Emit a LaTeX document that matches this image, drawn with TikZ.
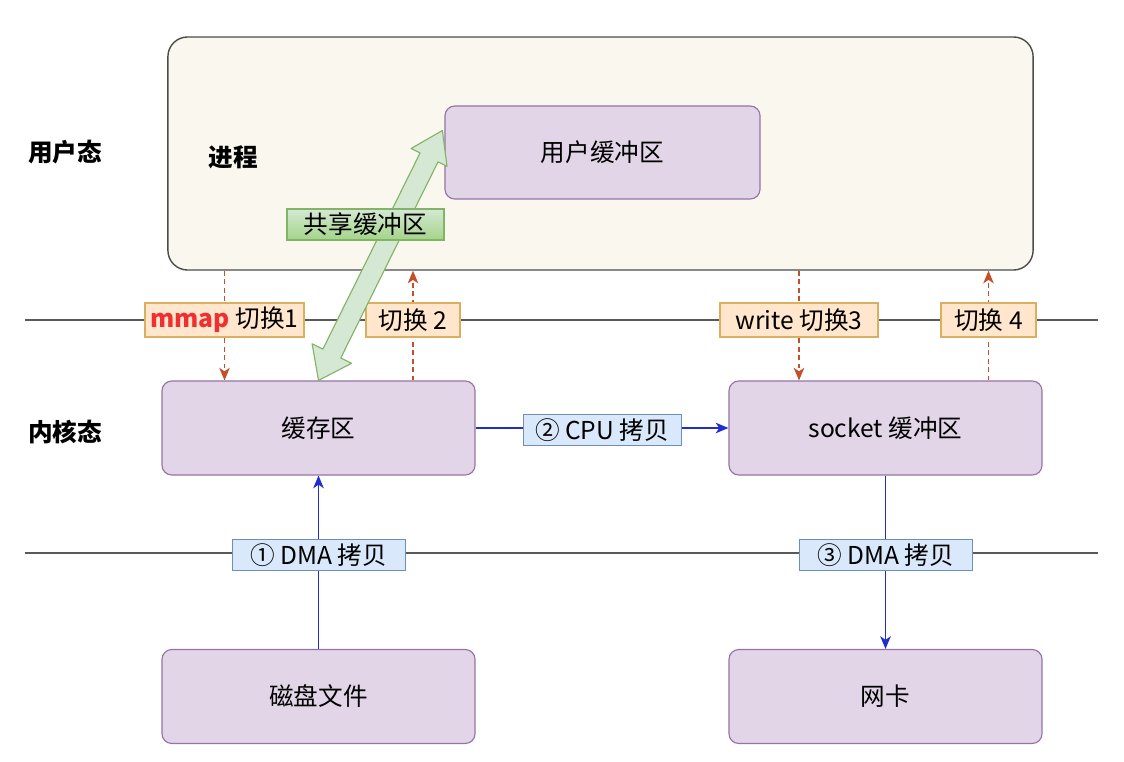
\documentclass[tikz,border=0pt]{standalone}
\usepackage{fontspec}
\setmainfont{Noto Sans CJK SC}
\usetikzlibrary{arrows.meta,calc,backgrounds}
\definecolor{buffill}{HTML}{E1D5E7}
\definecolor{bufdraw}{HTML}{9673A6}
\definecolor{procfill}{HTML}{F9F7EE}
\definecolor{swfill}{HTML}{FFE6CC}
\definecolor{swdraw}{HTML}{D9B060}
\definecolor{cpfill}{HTML}{DAE8FC}
\definecolor{cpdraw}{HTML}{6C8EBF}
\definecolor{cparrow}{HTML}{1F2ECC}
\definecolor{shfill}{HTML}{D5E8D4}
\definecolor{shdark}{HTML}{A3D488}
\definecolor{shdraw}{HTML}{82B366}
\definecolor{ctxarrow}{HTML}{C4502A}
\definecolor{mmapred}{HTML}{F03030}
\newcommand{\lblfont}{\fontsize{17.5}{20}\selectfont}

\begin{document}
\begin{tikzpicture}[x=0.025cm,y=-0.025cm,>={Stealth[length=9pt,width=7.5pt,inset=2.5pt]},
  buf/.style={draw=bufdraw,fill=buffill,rounded corners=7pt,line width=0.8pt,
              minimum width=7.825cm,minimum height=2.35cm,font=\lblfont},
  swlbl/.style={draw=swdraw,fill=swfill,line width=0.8pt,inner sep=2pt,
                minimum height=0.85cm,font=\lblfont},
  cplbl/.style={draw=cpdraw,fill=cpfill,line width=0.6pt,inner sep=2pt,
                minimum height=0.76cm,font=\lblfont},
  state/.style={font=\lblfont\bfseries},
  ctx/.style={->,draw=ctxarrow,dash pattern=on 3.5pt off 2.5pt,line width=0.8pt},
  copy/.style={->,draw=cparrow,line width=1pt},
  sep/.style={draw=black!65,line width=1pt}]
  \useasboundingbox (0,0) rectangle (1124,762);

  % user space
  \node[draw=black!70,fill=procfill,rounded corners=14pt,line width=1pt,
        minimum width=21.625cm,minimum height=5.825cm] (proc) at (600.5,153.5) {};
  \node[state] (user) at (65,152) {用户态};
  \node[state] (proctxt) at (233,157) {进程};
  \node[buf,minimum width=7.875cm,minimum height=2.325cm] (ubuf) at (602.5,152.5) {用户缓冲区};

  % kernel space
  \node[state] (kernel) at (65,432) {内核态};
  \node[buf] (cache) at (318.5,428) {缓存区};
  \node[buf] (sock) at (885.5,428) {socket 缓冲区};
  \node[buf] (disk) at (318.5,696.5) {磁盘文件};
  \node[buf] (nic) at (885.5,696.5) {网卡};

  % context switches
  \node[swlbl,minimum width=3.975cm] (sw1) at (224.5,320)
       {\textcolor{mmapred}{\textbf{mmap}} 切换1};
  \node[swlbl,minimum width=2.35cm] (sw2) at (413,320) {切换 2};
  \node[swlbl,minimum width=3.95cm] (sw3) at (799,320) {write 切换3};
  \node[swlbl,minimum width=2.375cm] (sw4) at (988.5,320) {切换 4};

  % copies
  \node[cplbl,minimum width=3.95cm] (cpu) at (602,430) {② CPU 拷贝};
  \node[cplbl,minimum width=4.325cm] (dma1) at (318.5,555) {① DMA 拷贝};
  \node[cplbl,minimum width=4.325cm] (dma3) at (885.5,555) {③ DMA 拷贝};

  \begin{pgfonlayer}{background}
    \draw[sep] (25,320) -- (1098,320);
    \draw[sep] (25,553) -- (1098,553);
    \draw[ctx] (sw1 |- proc.south) -- (sw1 |- cache.north);
    \draw[ctx] (sw2 |- cache.north) -- (sw2 |- proc.south);
    \draw[ctx] (sw3 |- proc.south) -- (sw3 |- sock.north);
    \draw[ctx] (sw4 |- sock.north) -- (sw4 |- proc.south);
    \draw[copy] (cache.east) -- (sock.west);
    \draw[copy] (disk.north) -- (cache.south);
    \draw[copy] (sock.south) -- (nic.north);
  \end{pgfonlayer}

  % shared buffer (mmap)
  \coordinate (sha) at (cache.north);
  \coordinate (shb) at ($(ubuf.west)+(-2,-22)$);
  \draw[draw=shdraw,fill=shfill,line width=0.8pt,line join=round]
    (sha) -- ($(sha)!0.75cm!(shb)!0.55cm!90:(shb)$)
    -- ($(sha)!0.75cm!(shb)!0.25cm!90:(shb)$)
    -- ($(shb)!0.75cm!(sha)!0.25cm!-90:(sha)$)
    -- ($(shb)!0.75cm!(sha)!0.5cm!-90:(sha)$)
    -- (shb)
    -- ($(shb)!0.75cm!(sha)!0.5cm!90:(sha)$)
    -- ($(shb)!0.75cm!(sha)!0.25cm!90:(sha)$)
    -- ($(sha)!0.75cm!(shb)!0.25cm!-90:(shb)$)
    -- ($(sha)!0.75cm!(shb)!0.55cm!-90:(shb)$) -- cycle;
  \node[draw=shdraw,top color=shfill,bottom color=shdark,line width=0.8pt,
        inner sep=2pt,minimum width=3.925cm,minimum height=0.775cm,font=\lblfont]
       (share) at (365.5,224.5) {共享缓冲区};
\end{tikzpicture}
\end{document}
